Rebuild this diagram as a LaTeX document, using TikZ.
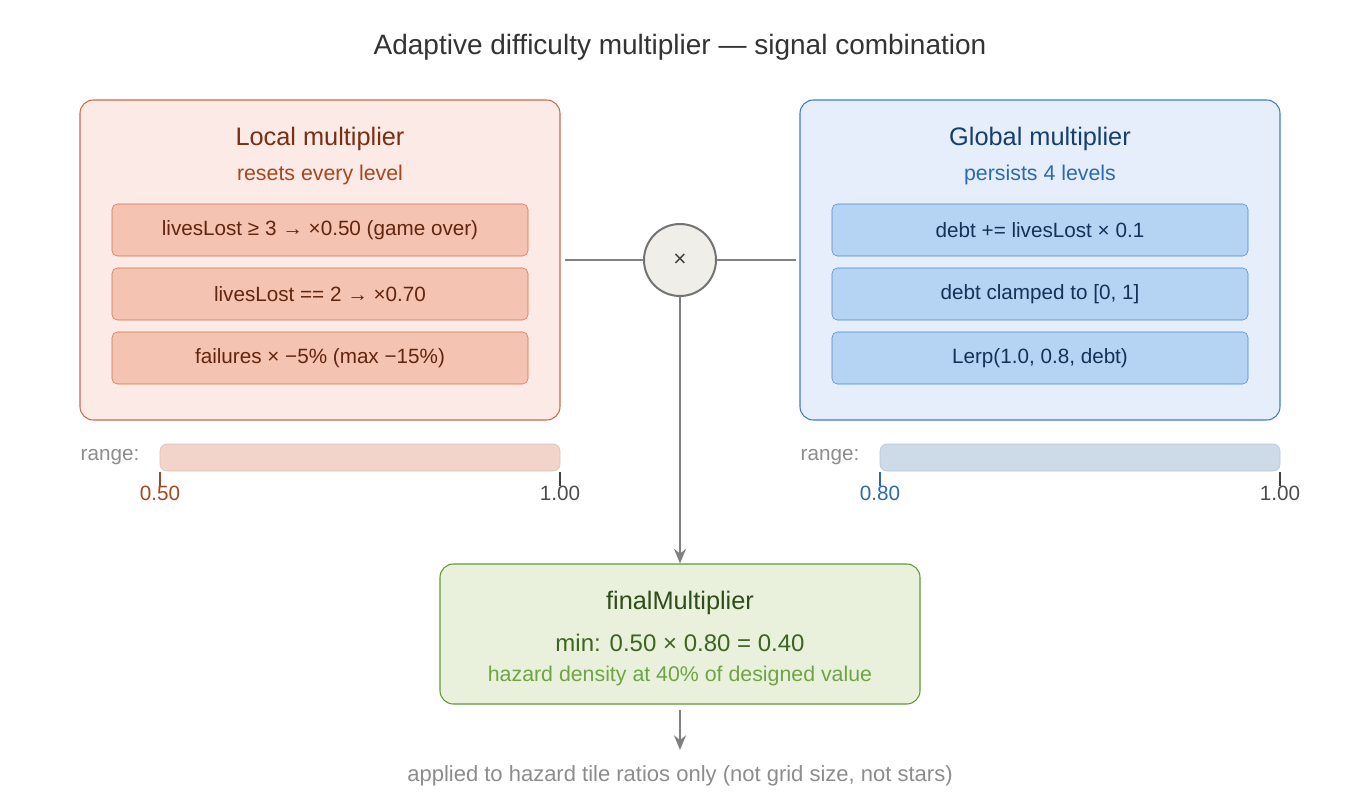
\documentclass[tikz,border=0pt]{standalone}
\usepackage{fontspec}
\setmainfont{Liberation Sans}
\usetikzlibrary{arrows.meta}
\definecolor{locfill}{HTML}{FBEAE5}
\definecolor{locline}{HTML}{C9694C}
\definecolor{locrow}{HTML}{F4C3B1}
\definecolor{locrowline}{HTML}{D2704E}
\definecolor{locbar}{HTML}{F2D4CA}
\definecolor{loctext}{HTML}{7A2E12}
\definecolor{locsub}{HTML}{A8461E}
\definecolor{glofill}{HTML}{E5EEFA}
\definecolor{gloline}{HTML}{3B7CC9}
\definecolor{glorow}{HTML}{B5D3F3}
\definecolor{glorowline}{HTML}{4A87CD}
\definecolor{globar}{HTML}{CCDBE7}
\definecolor{glotext}{HTML}{163E6E}
\definecolor{glosub}{HTML}{2A6AB0}
\definecolor{finfill}{HTML}{E9F1DC}
\definecolor{finline}{HTML}{5F9A30}
\definecolor{mulfill}{HTML}{EFEEE8}
\begin{document}
\begin{tikzpicture}[x=0.75pt,y=-0.75pt,
  panel/.style={rounded corners=10pt,line width=0.8pt},
  rowbox/.style={draw,rounded corners=4pt,minimum width=312pt,minimum height=39pt,font=\fontsize{15.5}{18}\selectfont},
  head/.style={font=\fontsize{19}{22}\selectfont},
  sub/.style={font=\fontsize{16}{18}\selectfont},
  tick/.style={font=\fontsize{15.5}{18}\selectfont},
  link/.style={draw=black!50,line width=1.5pt},
  arr/.style={link,-{Stealth[length=11pt,width=9pt]}}]
\useasboundingbox (0,0) rectangle (1360,800);
\node[font=\fontsize{21}{24}\selectfont,text=black!80] (title) at (680,47) {Adaptive difficulty multiplier — signal combination};
% local panel
\draw[panel,fill=locfill,draw=locline] (80,100) rectangle (560,420);
\node[head,text=loctext] (lochead) at (320,139) {Local multiplier};
\node[sub,text=locsub] (locsub) at (320,175) {resets every level};
\node[rowbox,fill=locrow,draw=locrowline,text=loctext!80!black] (loc1) at (320,230) {livesLost ≥ 3 → ×0.50 (game over)};
\node[rowbox,fill=locrow,draw=locrowline,text=loctext!80!black] (loc2) at (320,294) {livesLost == 2 → ×0.70};
\node[rowbox,fill=locrow,draw=locrowline,text=loctext!80!black] (loc3) at (320,358) {failures × −5\% (max −15\%)};
% global panel
\draw[panel,fill=glofill,draw=gloline] (800,100) rectangle (1280,420);
\node[head,text=glotext] (glohead) at (1040,139) {Global multiplier};
\node[sub,text=glosub] (glosub) at (1040,175) {persists 4 levels};
\node[rowbox,fill=glorow,draw=glorowline,text=glotext!80!black] (glo1) at (1040,230) {debt += livesLost × 0.1};
\node[rowbox,fill=glorow,draw=glorowline,text=glotext!80!black] (glo2) at (1040,294) {debt clamped to [0, 1]};
\node[rowbox,fill=glorow,draw=glorowline,text=glotext!80!black] (glo3) at (1040,358) {Lerp(1.0, 0.8, debt)};
% combine
\node[circle,draw=black!55,fill=mulfill,line width=1.5pt,minimum size=54pt,font=\fontsize{17}{18}\selectfont,text=black!75] (mul) at (680,260) {×};
\coordinate (locout) at (565,260);
\coordinate (gloout) at (796,260);
\draw[link] (locout) -- (mul);
\draw[link] (mul) -- (gloout);
% ranges
\node[tick,text=black!45,anchor=west] (locrange) at (76,457) {range:};
\draw[fill=locbar,draw=locbar!90!black,rounded corners=5pt] (160,444) rectangle (560,471);
\draw[locsub,line width=1pt] (160,472) -- (160,486);
\draw[black!75,line width=1pt] (560,472) -- (560,486);
\node[tick,text=locsub] (locmin) at (160,493) {0.50};
\node[tick,text=black!70] (locmax) at (560,493) {1.00};
\node[tick,text=black!45,anchor=west] (glorange) at (796,457) {range:};
\draw[fill=globar,draw=globar!90!black,rounded corners=5pt] (880,444) rectangle (1280,471);
\draw[glosub,line width=1pt] (880,472) -- (880,486);
\draw[black!75,line width=1pt] (1280,472) -- (1280,486);
\node[tick,text=glosub] (glomin) at (880,493) {0.80};
\node[tick,text=black!70] (glomax) at (1280,493) {1.00};
% final
\node[draw=finline,fill=finfill,rounded corners=10pt,line width=0.8pt,minimum width=360pt,minimum height=105pt] (final) at (680,634) {};
\node[head,text=finline!50!black] (finhead) at (680,603) {finalMultiplier};
\node[font=\fontsize{18}{20}\selectfont,text=finline!65!black] (finmin) at (680,643) {min: 0.50 × 0.80 = 0.40};
\node[sub,text=finline!90!white] (finnote) at (680,676) {hazard density at 40\% of designed value};
\draw[arr] (mul) -- (final.north);
\node[font=\fontsize{16.5}{18}\selectfont,text=black!45] (footer) at (680,776) {applied to hazard tile ratios only (not grid size, not stars)};
\coordinate (footin) at (680,750);
\draw[arr] ([yshift=-4pt]final.south) -- (footin);
\end{tikzpicture}
\end{document}
